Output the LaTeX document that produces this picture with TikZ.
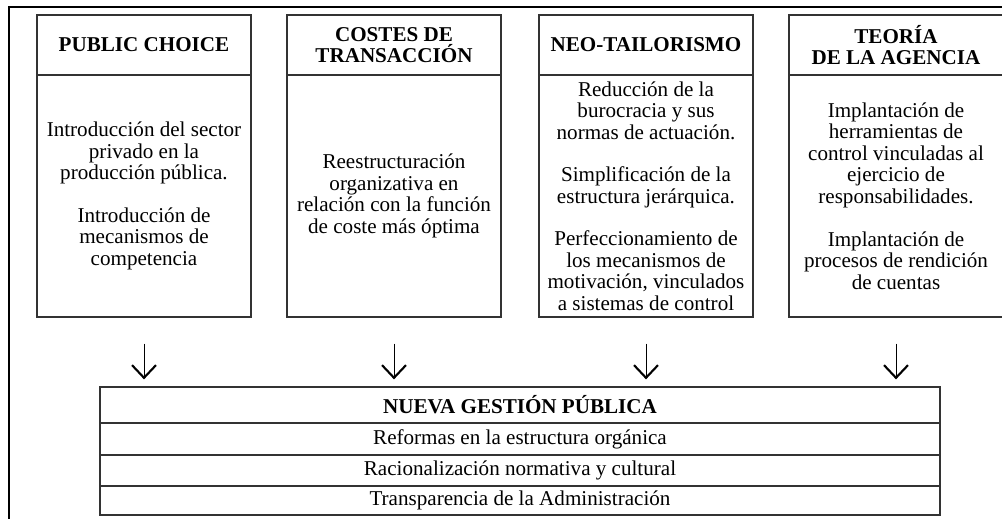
\documentclass[tikz,border=0pt]{standalone}
\usepackage{fontspec}
\setmainfont{Liberation Serif}
\usetikzlibrary{arrows.meta}
\usetikzlibrary{positioning}

\tikzset{
  frameline/.style={draw=black,line width=1.4pt},
  colhead/.style={draw=black!80,line width=0.9pt,minimum width=5.35cm,minimum height=1.5cm,align=center,font=\fontsize{15}{15.3}\selectfont\bfseries,inner sep=0pt},
  colbody/.style={draw=black!80,line width=0.9pt,minimum width=5.35cm,minimum height=6.05cm,align=center,font=\fontsize{15}{15.3}\selectfont,inner sep=0pt},
  ngprow/.style={draw=black!80,line width=0.9pt,minimum width=21cm,align=center,font=\fontsize{15}{15}\selectfont,inner sep=0pt},
  flow/.style={-{Straight Barb[length=9pt,width=17pt,line width=1.5pt]},line width=0.6pt,black},
}

\begin{document}
\begin{tikzpicture}[x=0.025cm,y=-0.025cm]
\useasboundingbox (0,0) rectangle (1002,519);

% outer frame (only top and left edge visible)
\draw[frameline] (9,519) -- (9,7) -- (1002,7);

% four columns
\node[colhead] (h1) at (144,45) {PUBLIC CHOICE};
\node[colbody] (b1) at (144,196) {Introducción del sector\\privado en la\\producción pública.\\[15pt]Introducción de\\mecanismos de\\competencia};

\node[colhead] (h2) at (394,45) {COSTES DE\\TRANSACCIÓN};
\node[colbody] (b2) at (394,196) {Reestructuración\\organizativa en\\relación con la función\\de coste más óptima};

\node[colhead] (h3) at (646,45) {NEO-TAILORISMO};
\node[colbody] (b3) at (646,196) {Reducción de la\\burocracia y sus\\normas de actuación.\\[15pt]Simplificación de la\\estructura jerárquica.\\[15pt]Perfeccionamiento de\\los mecanismos de\\motivación, vinculados\\a sistemas de control};

\node[colhead] (h4) at (896,45) {TEORÍA\\DE LA AGENCIA};
\node[colbody] (b4) at (896,196) {Implantación de\\herramientas de\\control vinculadas al\\ejercicio de\\responsabilidades.\\[15pt]Implantación de\\procesos de rendición\\de cuentas};

% bottom table
\node[ngprow,minimum height=0.9cm,font=\fontsize{15}{15}\selectfont\bfseries] (ngp) at (520,405) {NUEVA GESTIÓN PÚBLICA};
\node[ngprow,minimum height=0.8cm] (r1) at (520,439) {Reformas en la estructura orgánica};
\node[ngprow,minimum height=0.775cm] (r2) at (520,470.5) {Racionalización normativa y cultural};
\node[ngprow,minimum height=0.725cm] (r3) at (520,500.5) {Transparencia de la Administración};

% arrows
\draw[flow,shorten <=0.65cm,shorten >=0.175cm] (b1.south) -- (b1.south |- ngp.north);
\draw[flow,shorten <=0.65cm,shorten >=0.175cm] (b2.south) -- (b2.south |- ngp.north);
\draw[flow,shorten <=0.65cm,shorten >=0.175cm] (b3.south) -- (b3.south |- ngp.north);
\draw[flow,shorten <=0.65cm,shorten >=0.175cm] (b4.south) -- (b4.south |- ngp.north);

\end{tikzpicture}
\end{document}
